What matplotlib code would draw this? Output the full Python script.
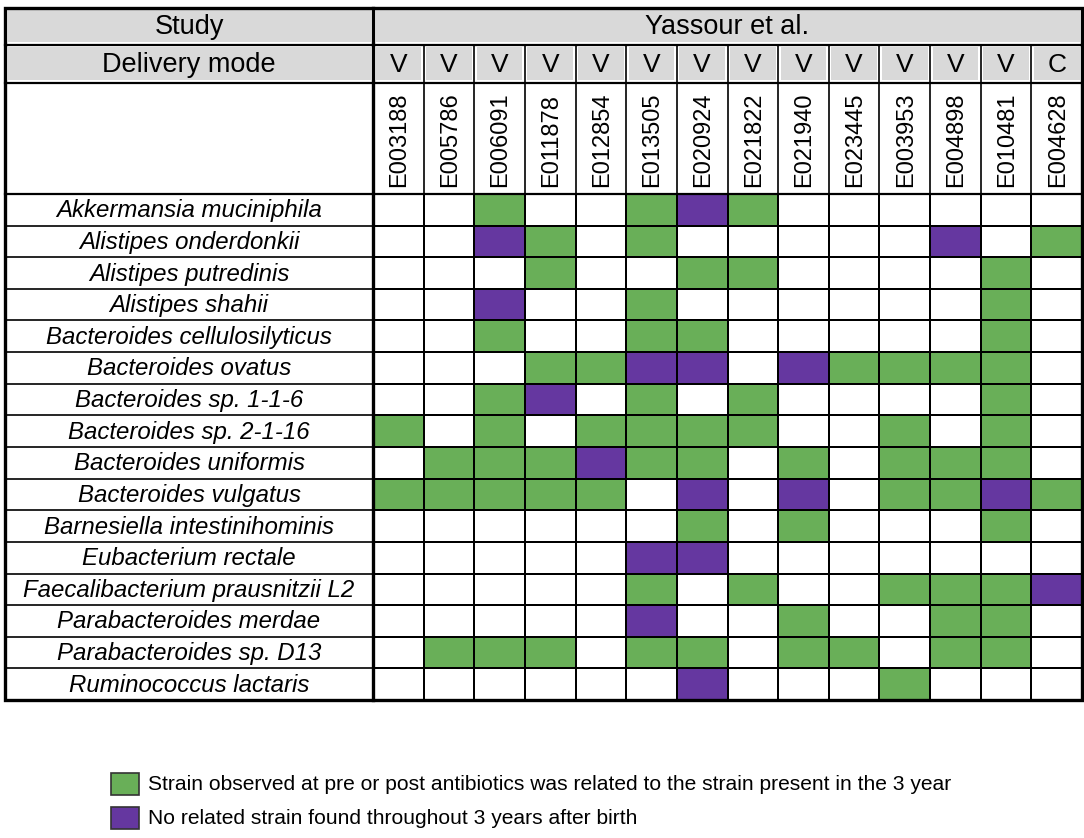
import numpy as np
import matplotlib
matplotlib.use('Agg')
import matplotlib.pyplot as plt
from matplotlib.colors import ListedColormap
from matplotlib.patches import Rectangle

plt.rcParams['font.family'] = ['Liberation Sans', 'DejaVu Sans']

# data
study = 'Yassour et al.'
delivery = ['V', 'V', 'V', 'V', 'V', 'V', 'V', 'V', 'V', 'V', 'V', 'V', 'V', 'C']
samples = ['E003188', 'E005786', 'E006091', 'E011878', 'E012854', 'E013505', 'E020924',
           'E021822', 'E021940', 'E023445', 'E003953', 'E004898', 'E010481', 'E004628']
species = ['Akkermansia muciniphila', 'Alistipes onderdonkii', 'Alistipes putredinis',
           'Alistipes shahii', 'Bacteroides cellulosilyticus', 'Bacteroides ovatus',
           'Bacteroides sp. 1-1-6', 'Bacteroides sp. 2-1-16', 'Bacteroides uniformis',
           'Bacteroides vulgatus', 'Barnesiella intestinihominis', 'Eubacterium rectale',
           'Faecalibacterium prausnitzii L2', 'Parabacteroides merdae',
           'Parabacteroides sp. D13', 'Ruminococcus lactaris']
# 0 = none, 1 = related strain at 3 years, 2 = no related strain
status = np.array([
    [0, 0, 1, 0, 0, 1, 2, 1, 0, 0, 0, 0, 0, 0],
    [0, 0, 2, 1, 0, 1, 0, 0, 0, 0, 0, 2, 0, 1],
    [0, 0, 0, 1, 0, 0, 1, 1, 0, 0, 0, 0, 1, 0],
    [0, 0, 2, 0, 0, 1, 0, 0, 0, 0, 0, 0, 1, 0],
    [0, 0, 1, 0, 0, 1, 1, 0, 0, 0, 0, 0, 1, 0],
    [0, 0, 0, 1, 1, 2, 2, 0, 2, 1, 1, 1, 1, 0],
    [0, 0, 1, 2, 0, 1, 0, 1, 0, 0, 0, 0, 1, 0],
    [1, 0, 1, 0, 1, 1, 1, 1, 0, 0, 1, 0, 1, 0],
    [0, 1, 1, 1, 2, 1, 1, 0, 1, 0, 1, 1, 1, 0],
    [1, 1, 1, 1, 1, 0, 2, 0, 2, 0, 1, 1, 2, 1],
    [0, 0, 0, 0, 0, 0, 1, 0, 1, 0, 0, 0, 1, 0],
    [0, 0, 0, 0, 0, 2, 2, 0, 0, 0, 0, 0, 0, 0],
    [0, 0, 0, 0, 0, 1, 0, 1, 0, 0, 1, 1, 1, 2],
    [0, 0, 0, 0, 0, 2, 0, 0, 1, 0, 0, 1, 1, 0],
    [0, 1, 1, 1, 0, 1, 1, 0, 1, 1, 0, 1, 1, 0],
    [0, 0, 0, 0, 0, 0, 2, 0, 0, 0, 1, 0, 0, 0],
])
legend_labels = ['Strain observed at pre or post antibiotics was related to the strain present in the 3 year',
                 'No related strain found throughout 3 years after birth']

green = '#69af58'
purple = '#6537a0'
gray = '#d9d9d9'

W, H = 1084, 838
fig = plt.figure(figsize=(W / 100, H / 100), dpi=100)
ax = fig.add_axes([0, 0, 1, 1])
ax.set_xlim(0, W)
ax.set_ylim(H, 0)
ax.axis('off')

# layout (pixels)
left, split, right = 5, 373, 1082
top, y_del, y_ids, y_data, bottom = 8, 45, 83, 194, 700
ncol, nrow = len(samples), len(species)
xe = np.linspace(split, right, ncol + 1)
ye = np.linspace(y_data, bottom, nrow + 1)
xc = (xe[:-1] + xe[1:]) / 2
yc = (ye[:-1] + ye[1:]) / 2
lx = (left + split) / 2

# gray header cells with white inset
ins = 2.5
for x0, x1, y0, y1 in [(left, split, top, y_del), (split, right, top, y_del), (left, split, y_del, y_ids)]:
    ax.add_patch(Rectangle((x0 + ins, y0 + ins), x1 - x0 - 2 * ins, y1 - y0 - 2 * ins,
                           facecolor=gray, edgecolor='none', zorder=1))
for i in range(ncol):
    ax.add_patch(Rectangle((xe[i] + ins, y_del + ins), xe[i + 1] - xe[i] - 2 * ins, y_ids - y_del - 2 * ins,
                           facecolor=gray, edgecolor='none', zorder=1))

# status grid
cmap = ListedColormap(['white', green, purple])
ax.pcolormesh(xe, ye, status, cmap=cmap, vmin=0, vmax=2, edgecolors='black', linewidth=1.2, zorder=2)

# lines
lw_thin, lw_mid, lw_thick = 1.2, 1.6, 2.4
for y in [y_del, y_ids, y_data]:
    ax.plot([left, right], [y, y], color='black', lw=lw_mid, zorder=3)
for y in ye[1:-1]:
    ax.plot([left, split], [y, y], color='black', lw=lw_thin, zorder=3)
for x in xe[1:-1]:
    ax.plot([x, x], [y_del, bottom], color='black', lw=lw_thin, zorder=3)
ax.plot([split, split], [top, bottom], color='black', lw=lw_thick, zorder=4)
ax.add_patch(Rectangle((left, top), right - left, bottom - top, facecolor='none',
                       edgecolor='black', lw=lw_thick, zorder=4))

# texts
ax.text(lx, (top + y_del) / 2 + 1, 'Study', ha='center', va='center', fontsize=19.5, zorder=5)
ax.text((split + right) / 2, (top + y_del) / 2 + 1, study, ha='center', va='center', fontsize=19.5, zorder=5)
ax.text(lx, (y_del + y_ids) / 2 + 1, 'Delivery mode', ha='center', va='center', fontsize=19.5, zorder=5)
for x, d in zip(xc, delivery):
    ax.text(x, (y_del + y_ids) / 2 + 1, d, ha='center', va='center', fontsize=19, zorder=5)
for x, s in zip(xc, samples):
    ax.text(x + 1, y_data - 7, s, ha='center', va='bottom', rotation=90, fontsize=17, zorder=5)
for y, s in zip(yc, species):
    ax.text(lx, y + 1, s, ha='center', va='center', style='italic', fontsize=17.3, zorder=5)

# legend
for k, (c, lab) in enumerate(zip([green, purple], legend_labels)):
    y0 = 773 + k * 34
    ax.add_patch(Rectangle((111, y0), 28, 22, facecolor=c, edgecolor='#333333', lw=1.2, zorder=5))
    ax.text(148, y0 + 11, lab, ha='left', va='center', fontsize=15.1, zorder=5)

fig.savefig('out.png', dpi=100)
